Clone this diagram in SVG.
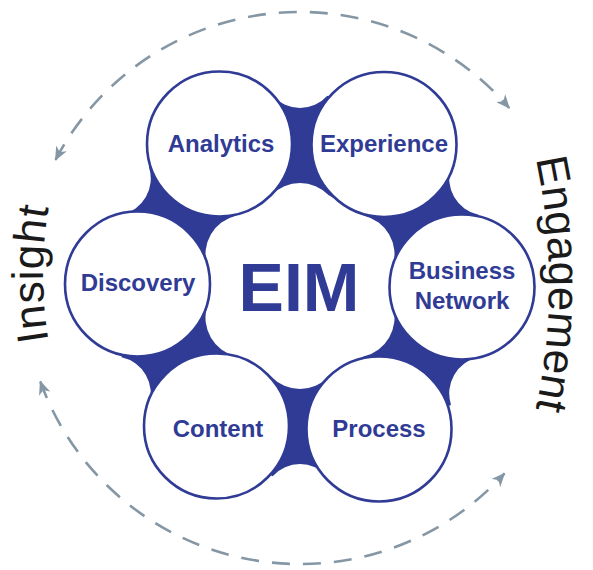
<svg xmlns="http://www.w3.org/2000/svg" width="593" height="570" viewBox="0 0 593 570">
<defs>
<style>
.ring{fill:#fff;stroke:#2f3b95;stroke-width:2.6}
.lbl{font-family:"Liberation Sans",Arial,sans-serif;font-weight:bold;font-size:24px;fill:#2f3b95;text-anchor:middle}
.side{font-family:"Liberation Sans",Arial,sans-serif;font-size:44px;fill:#1a1a1a}
.dash{fill:none;stroke:#8597a4;stroke-width:2.6;stroke-dasharray:18 13}
</style>
<marker id="arr" viewBox="0 0 14 12" refX="13" refY="6" markerWidth="14" markerHeight="12" markerUnits="userSpaceOnUse" orient="auto-start-reverse">
<path d="M0,0 L14,6 L0,12 L4,6 Z" fill="#8597a4"/>
</marker>
<path id="pEng" d="M 512.8 78.8 A 600 600 0 0 1 512.8 489.2"/>
<path id="pIns" d="M 80.5 443 A 400 400 0 0 1 80.5 105"/>
</defs>

<g id="connectors">
<path class="dash" d="M 55.5 159.9 A 276 276 0 0 1 509.2 108.0" marker-start="url(#arr)" marker-end="url(#arr)"/>
<path class="dash" d="M 40.3 381.5 A 276 276 0 0 0 504.5 473.4" marker-start="url(#arr)" marker-end="url(#arr)"/>
</g>

<g id="web">
<path fill="#2f3b95" d="M 272.63 95.86 A 36.9 36.9 0 0 0 327.37 95.86 L 451.00 167.25 A 36.9 36.9 0 0 0 478.36 214.63 L 478.36 357.37 A 36.9 36.9 0 0 0 451.00 404.75 L 327.37 476.14 A 36.9 36.9 0 0 0 272.63 476.14 L 149.00 404.75 A 36.9 36.9 0 0 0 121.64 357.37 L 121.64 214.63 A 36.9 36.9 0 0 0 149.00 167.25 Z"/>
</g>

<g id="eim">
<path fill="#fff" d="M 271.24 195.29 A 39.8 39.8 0 0 1 328.76 195.29 L 364.18 215.74 A 39.8 39.8 0 0 1 392.94 265.55 L 392.94 306.45 A 39.8 39.8 0 0 1 364.18 356.26 L 328.76 376.71 A 39.8 39.8 0 0 1 271.24 376.71 L 235.82 356.26 A 39.8 39.8 0 0 1 207.06 306.45 L 207.06 265.55 A 39.8 39.8 0 0 1 235.82 215.74 Z"/>
<text class="lbl" x="299" y="311" style="font-size:68px">EIM</text>
</g>

<g id="analytics">
<circle class="ring" cx="219.5" cy="144" r="72.5"/>
<text class="lbl" x="221" y="152">Analytics</text>
</g>
<g id="experience">
<circle class="ring" cx="384" cy="144.5" r="72.5"/>
<text class="lbl" x="384" y="152">Experience</text>
</g>
<g id="business-network">
<circle class="ring" cx="462" cy="287" r="72.5"/>
<text class="lbl" x="462" y="279">Business</text>
<text class="lbl" x="462" y="309">Network</text>
</g>
<g id="process">
<circle class="ring" cx="379" cy="429" r="72.5"/>
<text class="lbl" x="379" y="437">Process</text>
</g>
<g id="content">
<circle class="ring" cx="216.5" cy="426" r="72.5"/>
<text class="lbl" x="218" y="437">Content</text>
</g>
<g id="discovery">
<circle class="ring" cx="137.5" cy="284" r="72.5"/>
<text class="lbl" x="138" y="291">Discovery</text>
</g>

<g id="insight">
<text class="side" text-anchor="middle"><textPath href="#pIns" startOffset="50%" textLength="134">Insight</textPath></text>
</g>
<g id="engagement">
<text class="side" text-anchor="middle"><textPath href="#pEng" startOffset="50%" textLength="252">Engagement</textPath></text>
</g>
</svg>
